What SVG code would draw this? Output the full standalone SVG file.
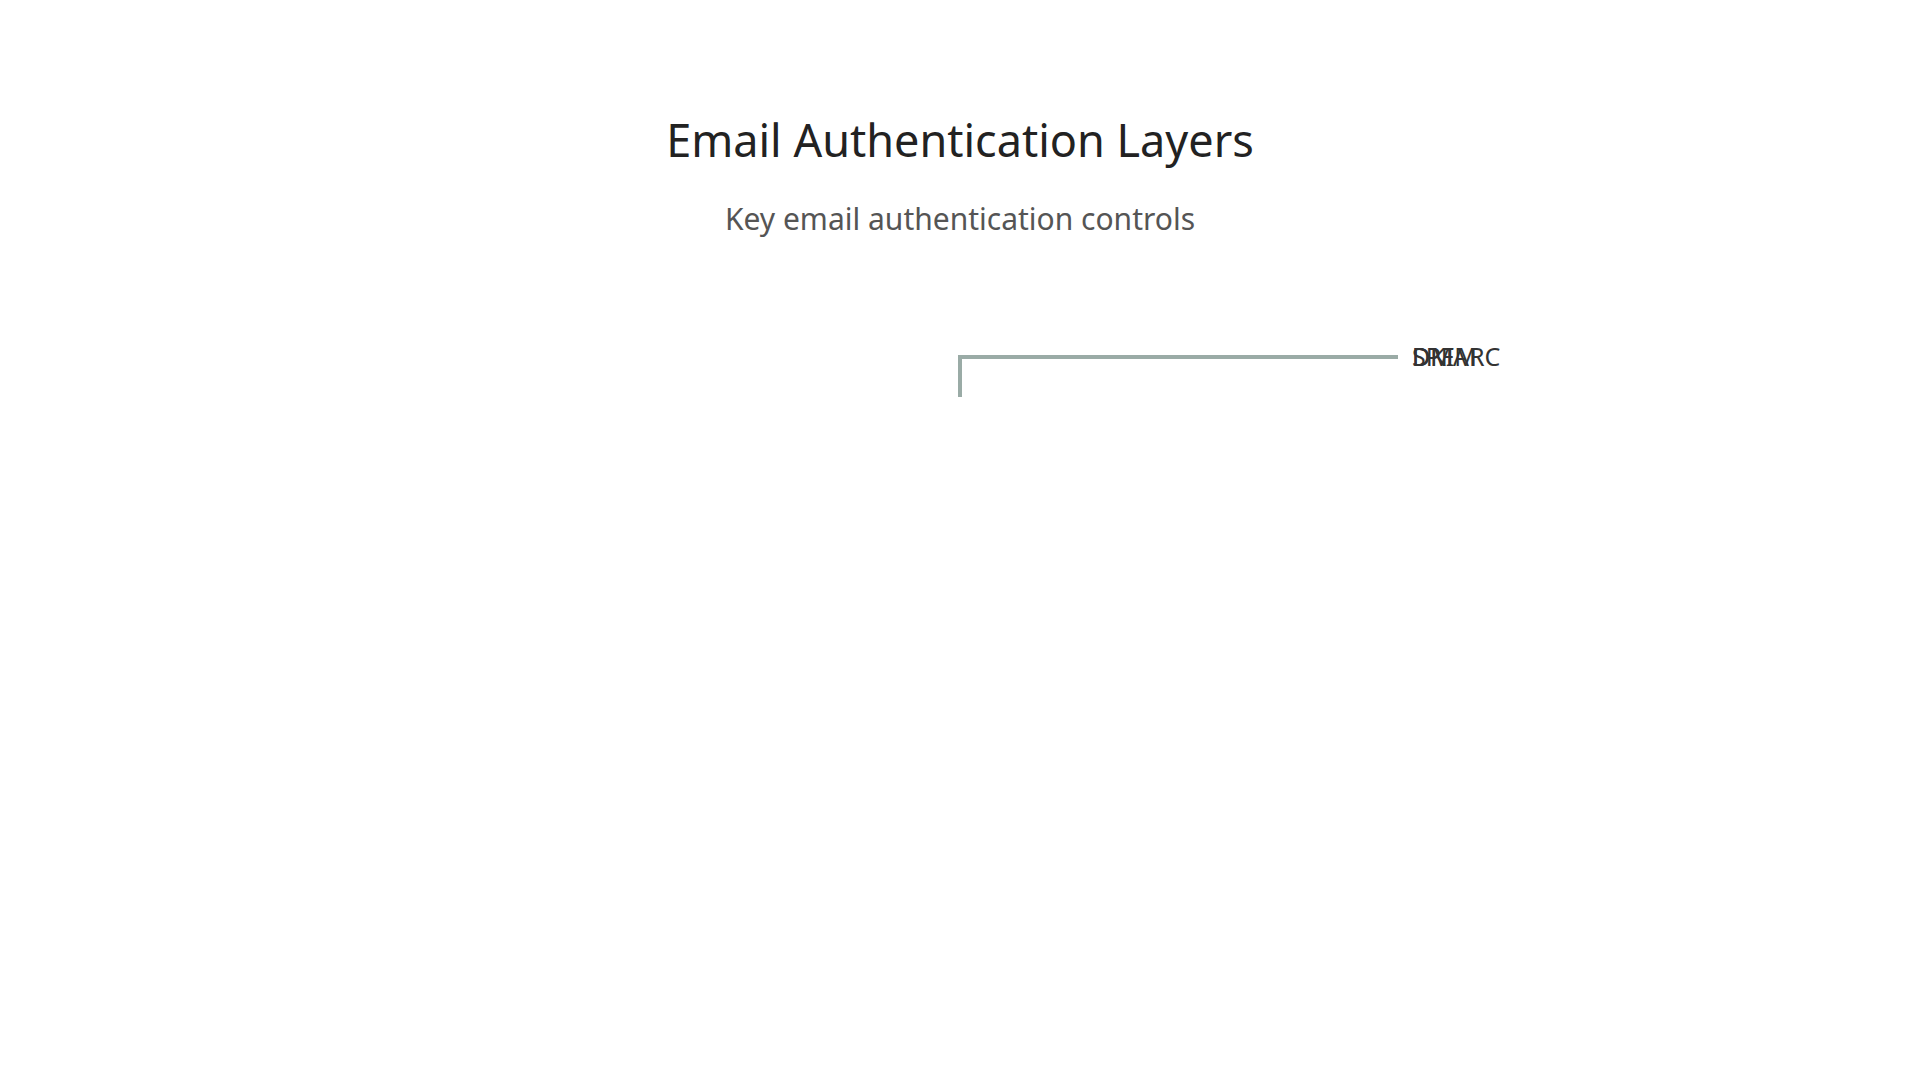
<svg xmlns="http://www.w3.org/2000/svg" width="1920" height="1080" viewBox="0 0 1920 1080">
<style>
.title{font-family:"Noto Sans",sans-serif;font-size:45px;fill:#222;text-anchor:middle}
.sub{font-family:"Noto Sans",sans-serif;font-size:30px;fill:#555;text-anchor:middle}
.lbl{font-family:"Noto Sans",sans-serif;font-size:25px;fill:#333}
.conn{fill:none;stroke:#9aaba6;stroke-width:4}
</style>
<rect width="1920" height="1080" fill="#fff"/>
<text class="title" x="960" y="157">Email Authentication Layers</text>
<text class="sub" x="960" y="230">Key email authentication controls</text>
<g id="connectors">
<path class="conn" d="M960 397 V357 H1398"/>
</g>
<g id="node-dmarc"><text class="lbl" x="1412" y="366">DMARC</text></g>
<g id="node-spf"><text class="lbl" x="1412" y="366">SPF</text></g>
<g id="node-dkim"><text class="lbl" x="1412" y="366">DKIM</text></g>
</svg>
